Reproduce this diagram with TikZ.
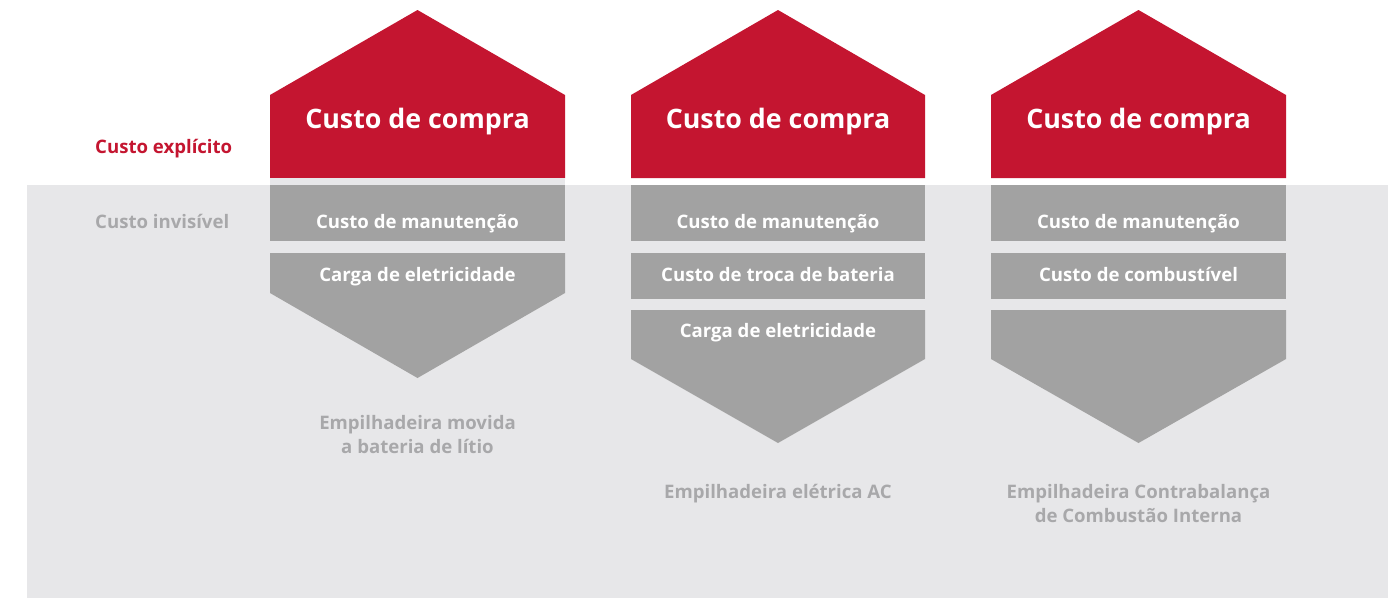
\documentclass[tikz,border=0pt]{standalone}
\usepackage{fontspec}
\setmainfont{Open Sans}
\definecolor{cred}{HTML}{C41530}
\definecolor{cbox}{HTML}{A2A2A2}
\definecolor{cbg}{HTML}{E7E7E9}
\definecolor{clab}{HTML}{A8A8AA}
\tikzset{
  redtxt/.style={font=\bfseries\fontsize{26.8}{30}\selectfont, text=white, anchor=base, inner sep=0pt},
  boxtxt/.style={font=\bfseries\fontsize{18.6}{22}\selectfont, text=white, anchor=base, inner sep=0pt},
  sidetxt/.style={font=\bfseries\fontsize{18.6}{22}\selectfont, anchor=base west, inner sep=0pt},
  bottxt/.style={font=\bfseries\fontsize{18.6}{24}\selectfont, text=clab, anchor=base, inner sep=0pt, align=center},
}
\begin{document}
\begin{tikzpicture}[x=1pt,y=-1pt]
\useasboundingbox (0,0) rectangle (1388,598);
\fill[white] (0,0) rectangle (1388,598);
% background
\fill[cbg] (27,185) rectangle (1388,598);
% side labels
\node[sidetxt, text=cred] (expl) at (95,153) {Custo explícito};
\node[sidetxt, text=clab] (invis) at (95,228) {Custo invisível};
% column 1
\fill[cred] (270,178) -- (270,95) -- (417.5,10) -- (565,95) -- (565,178) -- cycle;
\fill[cbg] (270,178) rectangle (565,185);
\fill[cbox] (270,185) rectangle (565,241);
\fill[cbox] (270,253) -- (565,253) -- (565,293) -- (417.5,378) -- (270,293) -- cycle;
\node[redtxt] (c1a) at (417.5,128) {Custo de compra};
\node[boxtxt] (c1b) at (417.5,228) {Custo de manutenção};
\node[boxtxt] (c1c) at (417.5,281) {Carga de eletricidade};
\node[bottxt] (c1d) at (417.5,453) {Empilhadeira movida\\a bateria de lítio};
% column 2
\fill[cred] (631,178) -- (631,95) -- (778,10) -- (925,95) -- (925,178) -- cycle;
\fill[cbox] (631,185) rectangle (925,241);
\fill[cbox] (631,253) rectangle (925,299);
\fill[cbox] (631,310) -- (925,310) -- (925,359) -- (778,443) -- (631,359) -- cycle;
\node[redtxt] (c2a) at (778,128) {Custo de compra};
\node[boxtxt] (c2b) at (778,228) {Custo de manutenção};
\node[boxtxt] (c2c) at (778,281) {Custo de troca de bateria};
\node[boxtxt] (c2d) at (778,337) {Carga de eletricidade};
\node[bottxt] (c2e) at (778,498) {Empilhadeira elétrica AC};
% column 3
\fill[cred] (991,178) -- (991,95) -- (1138.5,10) -- (1286,95) -- (1286,178) -- cycle;
\fill[cbox] (991,185) rectangle (1286,241);
\fill[cbox] (991,253) rectangle (1286,299);
\fill[cbox] (991,310) -- (1286,310) -- (1286,359) -- (1138.5,443) -- (991,359) -- cycle;
\node[redtxt] (c3a) at (1138.5,128) {Custo de compra};
\node[boxtxt] (c3b) at (1138.5,228) {Custo de manutenção};
\node[boxtxt] (c3c) at (1138.5,281) {Custo de combustível};
\node[bottxt] (c3d) at (1138.5,522) {Empilhadeira Contrabalança\\de Combustão Interna};
\end{tikzpicture}
\end{document}
